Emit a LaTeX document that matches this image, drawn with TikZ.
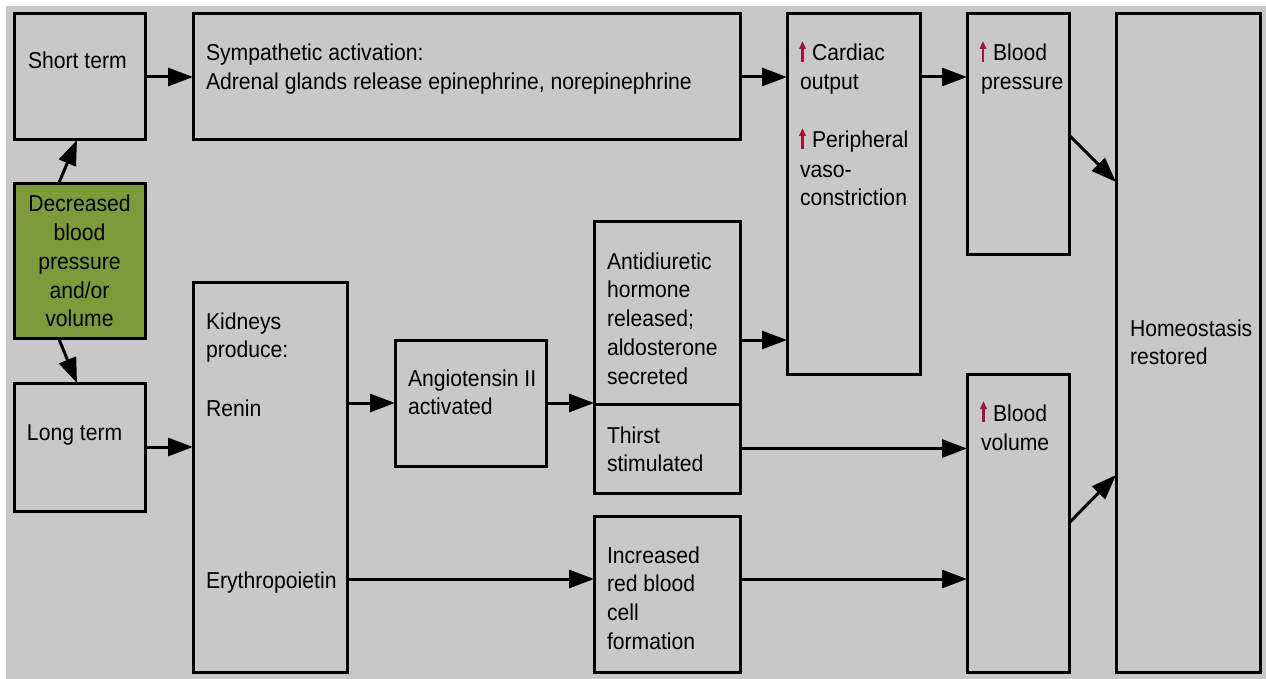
\documentclass[tikz,border=0pt]{standalone}
\usepackage{fontspec}
\setmainfont{Liberation Sans}[FakeStretch=0.92]
\usetikzlibrary{arrows.meta,calc}
\definecolor{bg}{HTML}{C8C8C8}
\definecolor{grn}{HTML}{7D9B3B}
\definecolor{upred}{HTML}{A3143C}
\newcommand{\fl}{\rule{0pt}{21pt}}
\begin{document}
\begin{tikzpicture}[x=1pt,y=-1pt,
  box/.style={draw=black, line width=3pt, inner sep=0pt, outer sep=0pt, anchor=north west},
  txt/.style={inner sep=0pt, outer sep=0pt, anchor=north west, align=left, font=\fontsize{23}{28.8}\selectfont},
  arr/.style={line width=3pt, -{Triangle[length=25pt,width=18pt]}},
  uparr/.style={draw=upred, line width=2.2pt, -{Triangle[length=8pt,width=6.5pt,fill=upred]}}]
\useasboundingbox (0,0) rectangle (1266,679);
\fill[white] (0,0) rectangle (1266,679);
\fill[bg] (6,6) rectangle (1266,679);
% boxes
\node[box, minimum width=131pt, minimum height=126pt] (short) at (14,14) {};
\node[box, fill=grn, minimum width=131pt, minimum height=154pt] (dec) at (14,184) {};
\node[box, minimum width=131pt, minimum height=128pt] (long) at (14,383) {};
\node[box, minimum width=547pt, minimum height=126pt] (symp) at (193,14) {};
\node[box, minimum width=154pt, minimum height=390pt] (kid) at (193,282) {};
\node[box, minimum width=151pt, minimum height=126pt] (ang) at (395,340) {};
\node[box, minimum width=146pt, minimum height=182pt] (adh) at (594,222) {};
\node[box, minimum width=146pt, minimum height=89pt] (thirst) at (594,404) {};
\node[box, minimum width=146pt, minimum height=156pt] (rbc) at (594,516) {};
\node[box, minimum width=133pt, minimum height=360pt] (card) at (787,14) {};
\node[box, minimum width=102pt, minimum height=240pt] (bp) at (967,14) {};
\node[box, minimum width=102pt, minimum height=298pt] (bv) at (967,374) {};
\node[box, minimum width=144pt, minimum height=658pt] (home) at (1116,14) {};
% texts
\node[txt] (tshort) at (28,48) {\fl Short term};
\node[txt, anchor=center, align=center] (tdec) at ($(dec.center)+(0,0)$) {Decreased\\blood\\pressure\\and/or\\volume};
\node[txt] (tlong) at (27,419) {\fl Long term};
\node[txt] (tsymp) at (206,40) {\fl Sympathetic activation:\\Adrenal glands release epinephrine, norepinephrine};
\node[txt] (tkid) at (206,308) {\fl Kidneys\\produce:};
\node[txt] (trenin) at (206,395) {\fl Renin};
\node[txt] (tery) at (206,567) {\fl Erythropoietin};
\node[txt] (tang) at (408,365) {\fl Angiotensin II\\activated};
\node[txt] (tadh) at (607,248) {\fl Antidiuretic\\hormone\\released;\\aldosterone\\secreted};
\node[txt] (tthirst) at (607,422) {\fl Thirst\\stimulated};
\node[txt] (trbc) at (607,542) {\fl Increased\\red blood\\cell\\formation};
\node[txt] (tcard1) at (812,40) {\fl Cardiac};
\node[txt] (tcard2) at (800,69) {\fl output};
\node[txt] (tper1) at (812,127) {\fl Peripheral};
\node[txt] (tper2) at (800,156) {\fl vaso-\\constriction};
\node[txt] (tbp1) at (993,40) {\fl Blood};
\node[txt] (tbp2) at (981,69) {\fl pressure};
\node[txt] (tbv1) at (993,400) {\fl Blood};
\node[txt] (tbv2) at (981,429) {\fl volume};
\node[txt] (thome) at (1130,315) {\fl Homeostasis\\restored};
% red up arrows
\draw[uparr] (802.5,62) -- (802.5,41);
\draw[uparr] (802.5,149) -- (802.5,128);
\draw[uparr] (983,62) -- (983,41);
\draw[uparr] (983.5,422) -- (983.5,401);
% connectors
\draw[arr] ($(dec.north)+(-21,0)$) -- ($(short.south)+(-2.5,0)$);
\draw[arr] ($(dec.south)+(-21,0)$) -- ($(long.north)+(-2.5,0)$);
\draw[arr] (short.east) -- (short.east -| symp.west);
\draw[arr] (long.east) -- (long.east -| kid.west);
\draw[arr] (symp.east) -- (symp.east -| card.west);
\draw[arr] (card.east |- symp.east) -- (bp.west |- symp.east);
\draw[arr] (kid.east |- ang.west) -- (ang.west);
\draw[arr] (ang.east) -- (ang.east -| adh.west);
\draw[arr] (adh.east |- 0,340) -- (card.west |- 0,340);
\draw[arr] (thirst.east) -- (thirst.east -| bv.west);
\draw[arr] (kid.east |- 0,579) -- (rbc.west |- 0,579);
\draw[arr] (rbc.east |- 0,579) -- (bv.west |- 0,579);
\draw[arr] (bp.east |- 0,135) -- (home.west |- 0,182);
\draw[arr] (bv.east |- 0,523) -- (home.west |- 0,475);
\end{tikzpicture}
\end{document}
